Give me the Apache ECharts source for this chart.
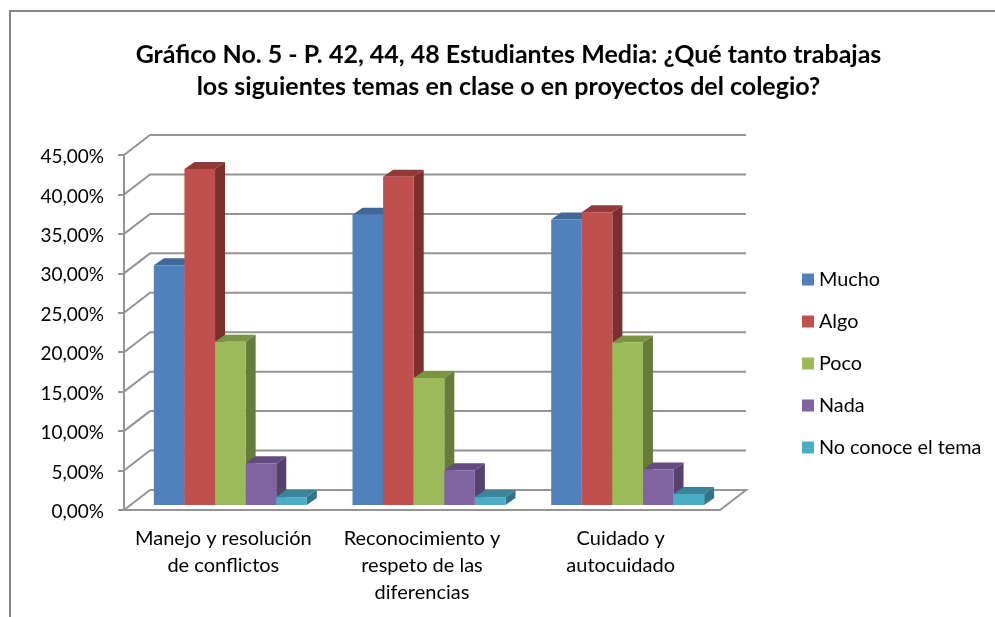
<!DOCTYPE html>
<html>
<head>
<meta charset="utf-8">
<style>html,body{margin:0;padding:0;background:#fff}#c{width:995px;height:617px}</style>
<script src="https://cdn.jsdelivr.net/npm/echarts@6/dist/echarts.min.js"></script>
</head>
<body>
<div id="c"></div>
<script>
var titleText = 'Gráfico No. 5 - P. 42, 44, 48 Estudiantes Media: ¿Qué tanto trabajas\nlos siguientes temas en clase o en proyectos del colegio?';
var categories = ['Manejo y resolución\nde conflictos', 'Reconocimiento y\nrespeto de las\ndiferencias', 'Cuidado y\nautocuidado'];
var seriesNames = ['Mucho', 'Algo', 'Poco', 'Nada', 'No conoce el tema'];
var mucho = [30.4, 36.8, 36.2];
var algo = [42.6, 41.6, 37.1];
var poco = [20.7, 16.1, 20.6];
var nada = [5.3, 4.4, 4.5];
var noConoce = [1.0, 1.0, 1.4];
var yTicks = [0, 5, 10, 15, 20, 25, 30, 35, 40, 45];
var frontColors = ['#4F81BD', '#C0504D', '#9BBB59', '#8064A2', '#4BACC6'];
var topColors = ['#3F6797', '#933A38', '#7A9444', '#624B7F', '#3A8499'];
var sideColors = ['#385D8A', '#7D2F2D', '#667C3A', '#57416F', '#317488'];
var gridColor = '#949494';

var allValues = [mucho, algo, poco, nada, noConoce];
var wall = {dx: 26, dy: -20};
var barPlane = {dx: 7, dy: -5};
var barDepth = {dx: 10, dy: -7};
var barShare = 0.154;

function poly(pts, fill) {
  return {type: 'polygon', shape: {points: pts}, style: {fill: fill}};
}
function renderBar(si) {
  return function (params, api) {
    var band = api.size([1, 0])[0];
    var w = band * barShare;
    var top = api.coord([api.value(0), api.value(1)]);
    var base = api.coord([api.value(0), 0]);
    var x0 = top[0] - 2.5 * w + si * w + barPlane.dx;
    var x1 = x0 + w;
    var yT = top[1] + barPlane.dy;
    var yB = base[1] + barPlane.dy;
    var d = barDepth;
    return {
      type: 'group',
      children: [
        poly([[x1, yT], [x1 + d.dx, yT + d.dy], [x1 + d.dx, yB + d.dy], [x1, yB]], sideColors[si]),
        poly([[x0, yT], [x0 + d.dx, yT + d.dy], [x1 + d.dx, yT + d.dy], [x1, yT]], topColors[si]),
        poly([[x0, yT], [x1, yT], [x1, yB], [x0, yB]], frontColors[si])
      ]
    };
  };
}
function renderWall(params, api) {
  var cs = params.coordSys;
  var y = api.coord([0, api.value(0)])[1];
  var pts = [[cs.x, y], [cs.x + wall.dx, y + wall.dy], [cs.x + cs.width + wall.dx, y + wall.dy]];
  if (api.value(0) === 0) pts.push([cs.x + cs.width, y]);
  return {type: 'polyline', shape: {points: pts}, style: {stroke: gridColor, lineWidth: 2, fill: null}};
}

var series = [{
  type: 'custom', name: 'pared', coordinateSystem: 'cartesian2d', silent: true, clip: false,
  data: yTicks.map(function (t) { return [t]; }), encode: {y: 0},
  renderItem: renderWall, z: 1
}];
seriesNames.forEach(function (n, si) {
  series.push({
    type: 'custom', name: n, coordinateSystem: 'cartesian2d', clip: false, z: 2,
    itemStyle: {color: frontColors[si]},
    encode: {x: 0, y: 1},
    data: allValues[si].map(function (v, i) { return [i, v]; }),
    renderItem: renderBar(si)
  });
});

var chart = echarts.init(document.getElementById('c'), null, {renderer: 'canvas'});
chart.setOption({
  animation: false,
  backgroundColor: '#fff',
  title: {
    text: titleText, left: 503.5, top: 34, textAlign: 'center',
    textStyle: {fontFamily: 'Lato', fontSize: 25, fontWeight: 'bold', color: '#000', lineHeight: 32}
  },
  legend: {
    data: seriesNames, orient: 'vertical', left: 797, top: 264.5, icon: 'rect',
    itemWidth: 12, itemHeight: 12, itemGap: 22, selectedMode: false,
    textStyle: {fontFamily: 'Lato', fontSize: 19.8, color: '#000', lineHeight: 20}
  },
  grid: {left: 124, right: 275, top: 155, bottom: 107},
  xAxis: {
    type: 'category', data: categories,
    axisLine: {lineStyle: {color: gridColor, width: 2}},
    axisTick: {show: false},
    axisLabel: {fontFamily: 'Lato', fontSize: 20, color: '#000', lineHeight: 27, margin: 15, interval: 0}
  },
  yAxis: {
    type: 'value', min: 0, max: 45, interval: 5,
    splitLine: {show: false},
    axisLine: {show: true, lineStyle: {color: gridColor, width: 2}},
    axisTick: {show: true, length: 6, lineStyle: {color: gridColor, width: 2}},
    axisLabel: {
      fontFamily: 'Lato', fontSize: 19, color: '#000', margin: 20,
      verticalAlign: 'top', lineHeight: 4,
      formatter: function (v) { return v.toFixed(2).replace('.', ',') + '%'; }
    }
  },
  graphic: [{
    type: 'polyline', silent: true,
    shape: {points: [[10, 617], [10, 11], [995, 11]]},
    style: {stroke: '#868686', lineWidth: 2, fill: null}
  }],
  series: series
});
</script>
</body>
</html>
